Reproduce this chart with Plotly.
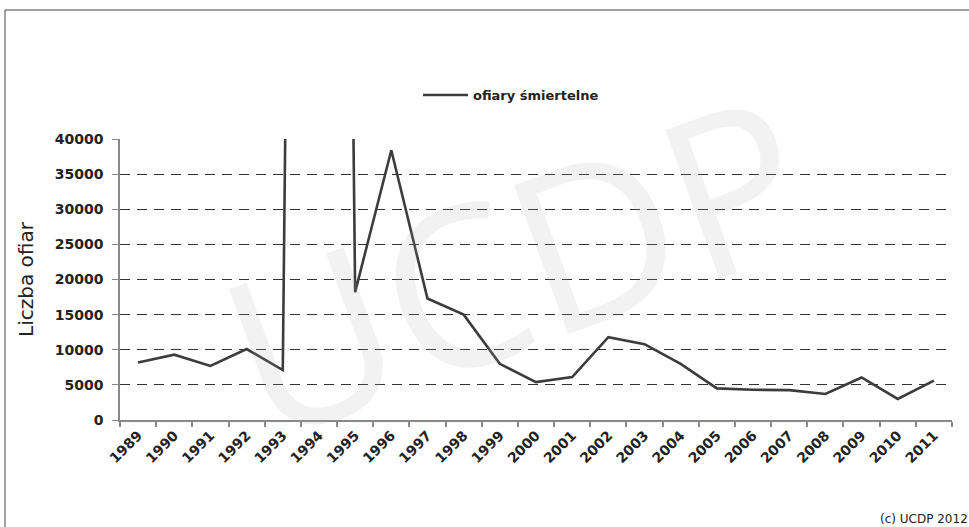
import plotly.graph_objects as go

years = [str(y) for y in range(1989, 2012)]
deaths = [8200, 9300, 7700, 10100, 7100, 500000, 18200, 38400, 17300, 15000,
          8000, 5400, 6100, 11800, 10800, 8000, 4500, 4300, 4250, 3700,
          6050, 3000, 5600]
y_ticks = [0, 5000, 10000, 15000, 20000, 25000, 30000, 35000, 40000]

W, H = 969, 527
L, R, T, B = 120, 17, 139, 107
pw, ph = W - L - R, H - T - B

def px_x(x):
    return (x - L) / pw

def px_y(y):
    return (H - B - y) / ph

fig = go.Figure()
fig.add_trace(go.Scatter(
    x=years, y=deaths, mode="lines", name="ofiary śmiertelne",
    line=dict(color="#3c3c3c", width=2.6),
))

font_main = "DejaVu Sans"

fig.update_layout(
    width=W, height=H,
    margin=dict(l=L, r=R, t=T, b=B, autoexpand=False),
    paper_bgcolor="white", plot_bgcolor="white",
    showlegend=True,
    legend=dict(
        orientation="h", x=px_x(418), y=px_y(95), xanchor="left", yanchor="middle",
        font=dict(family=font_main, size=13, color="#222", weight="bold"),
        itemwidth=45, bgcolor="rgba(0,0,0,0)",
    ),
    xaxis=dict(
        type="category", range=[-0.5, len(years) - 0.5],
        showgrid=False, showline=True, linecolor="#888", linewidth=1.5,
        ticks="outside", tickson="boundaries", ticklen=5, tickcolor="#888", tickwidth=1.5,
        tickangle=-45, tickfont=dict(family=font_main, size=14, color="#222", weight="bold"),
        zeroline=False,
    ),
    yaxis=dict(
        range=[0, 40000], tickvals=y_ticks, ticktext=[str(v) for v in y_ticks],
        showgrid=True, gridcolor="#333", gridwidth=1, griddash="10px,7px",
        showline=True, linecolor="#888", linewidth=1.5,
        ticks="outside", ticklen=6, tickcolor="#888", tickwidth=1.2,
        ticklabelstandoff=6,
        tickfont=dict(family=font_main, size=14, color="#222", weight="bold"),
        zeroline=False,
        title=dict(text="Liczba ofiar", font=dict(family=font_main, size=20, color="#222"), standoff=16),
    ),
    shapes=[dict(
        type="rect", xref="paper", yref="paper",
        x0=px_x(5), x1=px_x(985), y0=px_y(545), y1=px_y(10),
        line=dict(color="#444", width=1), fillcolor="rgba(0,0,0,0)", layer="below",
    )],
    annotations=[
        dict(
            text="(c) UCDP 2012", xref="paper", yref="paper",
            x=px_x(878), y=px_y(510), xanchor="left", yanchor="top", showarrow=False,
            font=dict(family=font_main, size=12, color="#222"),
        ),
        dict(
            text="UCDP", xref="paper", yref="paper",
            x=px_x(515), y=px_y(262), xanchor="center", yanchor="middle", showarrow=False,
            textangle=-20,
            font=dict(family="Open Sans", size=222, color="rgba(170,170,170,0.15)"),
        ),
    ],
)

fig.write_html("out.html", config={"displayModeBar": False},
               post_script="document.body.style.margin='0px';document.body.style.overflow='hidden';")
